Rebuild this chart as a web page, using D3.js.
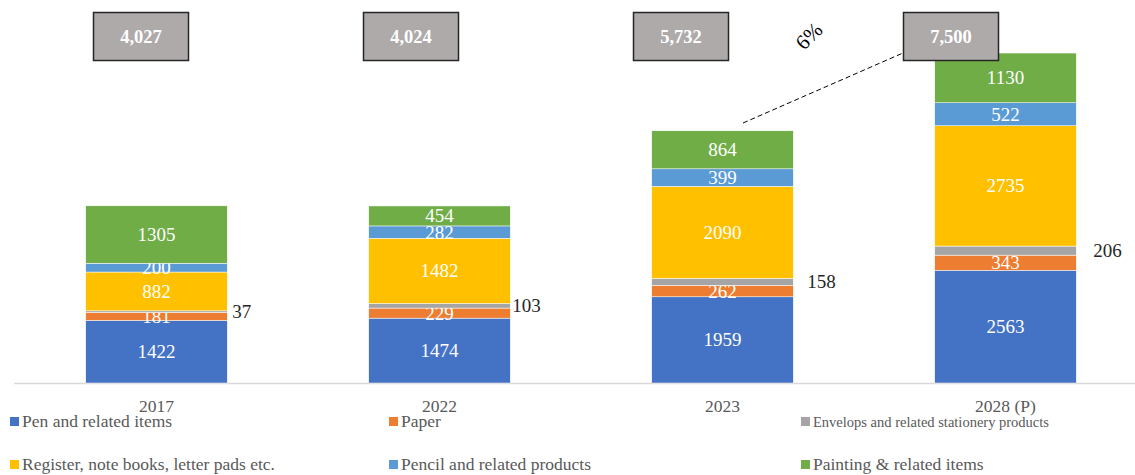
<!DOCTYPE html>
<html><head><meta charset="utf-8">
<script src="https://cdn.jsdelivr.net/npm/d3@7"></script>
<style>body{margin:0;background:#fff}svg{display:block}text{font-family:"Liberation Serif","Times New Roman",serif}</style>
</head><body><svg id="c" width="1135" height="475"></svg>
<script>
const categories = ["2017", "2022", "2023", "2028 (P)"];
const seriesNames = ["Pen and related items", "Paper", "Envelops and related stationery products",
  "Register, note books, letter pads etc.", "Pencil and related products", "Painting & related items"];
const pen = [1422, 1474, 1959, 2563];
const paper = [181, 229, 262, 343];
const envelops = [37, 103, 158, 206];
const register = [882, 1482, 2090, 2735];
const pencil = [200, 282, 399, 522];
const painting = [1305, 454, 864, 1130];
const totals = ["4,027", "4,024", "5,732", "7,500"];
const cagrLabel = "6%";

const colors = ["#4472C4", "#ED7D31", "#A5A5A5", "#FFC000", "#5B9BD5", "#70AD47"];
const seriesVals = [pen, paper, envelops, register, pencil, painting];

const svg = d3.select("#c");
const x = d3.scaleBand().domain(categories).range([15, 1147]).paddingInner(0.5).paddingOuter(0.25);
const y = d3.scaleLinear().domain([0, 7500]).range([383, 53]);

const rows = categories.map((c, i) => {
  const r = {cat: c};
  seriesNames.forEach((s, j) => r[s] = seriesVals[j][i]);
  return r;
});
const stacked = d3.stack().keys(seriesNames)(rows);

// baseline
svg.append("line").attr("x1", 14).attr("x2", 1135).attr("y1", y(0) + 0.5).attr("y2", y(0) + 0.5)
  .attr("stroke", "#D9D9D9").attr("stroke-width", 1.5);

stacked.forEach((layer, j) => {
  const g = svg.append("g");
  g.selectAll("rect").data(layer).enter().append("rect")
    .attr("x", d => x(d.data.cat)).attr("width", x.bandwidth())
    .attr("y", d => y(d[1])).attr("height", d => y(d[0]) - y(d[1]))
    .attr("fill", colors[j]).attr("stroke", "#fff").attr("stroke-width", 0.5);
  if (j === 2) {
    const offs = [5, 2, 14, 17];
    g.selectAll("text").data(layer).enter().append("text")
      .attr("x", (d, i) => x(d.data.cat) + x.bandwidth() + offs[i])
      .attr("y", d => (y(d[0]) + y(d[1])) / 2 + 6.5)
      .attr("font-size", 19).attr("fill", "#262626")
      .text(d => d.data[seriesNames[j]]);
  } else {
    g.selectAll("text").data(layer).enter().append("text")
      .attr("x", d => x(d.data.cat) + x.bandwidth() / 2)
      .attr("y", d => (y(d[0]) + y(d[1])) / 2 + 6.5)
      .attr("text-anchor", "middle").attr("font-size", 19).attr("fill", "#fff")
      .text(d => d.data[seriesNames[j]]);
  }
});

// category axis labels
svg.append("g").selectAll("text").data(categories).enter().append("text")
  .attr("x", d => x(d) + x.bandwidth() / 2).attr("y", 412)
  .attr("text-anchor", "middle").attr("font-size", 17.5).attr("fill", "#595959").text(d => d);

// total boxes
const bx = d3.scalePoint().domain(categories).range([141, 951]);
const boxes = svg.append("g").selectAll("g").data(categories).enter().append("g");
boxes.append("rect").attr("x", d => bx(d) - 47.5).attr("y", 12.5).attr("width", 95).attr("height", 48)
  .attr("fill", "#AEAAAA").attr("stroke", "#262626").attr("stroke-width", 1.5);
boxes.append("text").attr("x", d => bx(d)).attr("y", 42.5).attr("text-anchor", "middle")
  .attr("font-size", 18.5).attr("font-weight", "bold").attr("fill", "#fff").text((d, i) => totals[i]);

// CAGR dashed line
svg.append("line").attr("x1", 743).attr("y1", 123).attr("x2", 903).attr("y2", 53)
  .attr("stroke", "#000").attr("stroke-width", 1).attr("stroke-dasharray", "5,3");
svg.append("text").attr("transform", "translate(814,41) rotate(-45)").attr("text-anchor", "middle")
  .attr("font-size", 21).attr("fill", "#000").text(cagrLabel);

// legend
const legPos = [[10, 427], [389, 427], [801, 427], [10, 470], [389, 470], [801, 470]];
const lg = svg.append("g").selectAll("g").data(seriesNames).enter().append("g");
lg.append("rect").attr("x", (d, i) => legPos[i][0]).attr("y", (d, i) => legPos[i][1] - 10)
  .attr("width", 9).attr("height", 9).attr("fill", (d, i) => colors[i]);
lg.append("text").attr("x", (d, i) => legPos[i][0] + 12).attr("y", (d, i) => legPos[i][1])
  .attr("font-size", (d, i) => i === 2 ? 14.5 : 17.5).attr("fill", "#595959").text(d => d);
</script></body></html>
